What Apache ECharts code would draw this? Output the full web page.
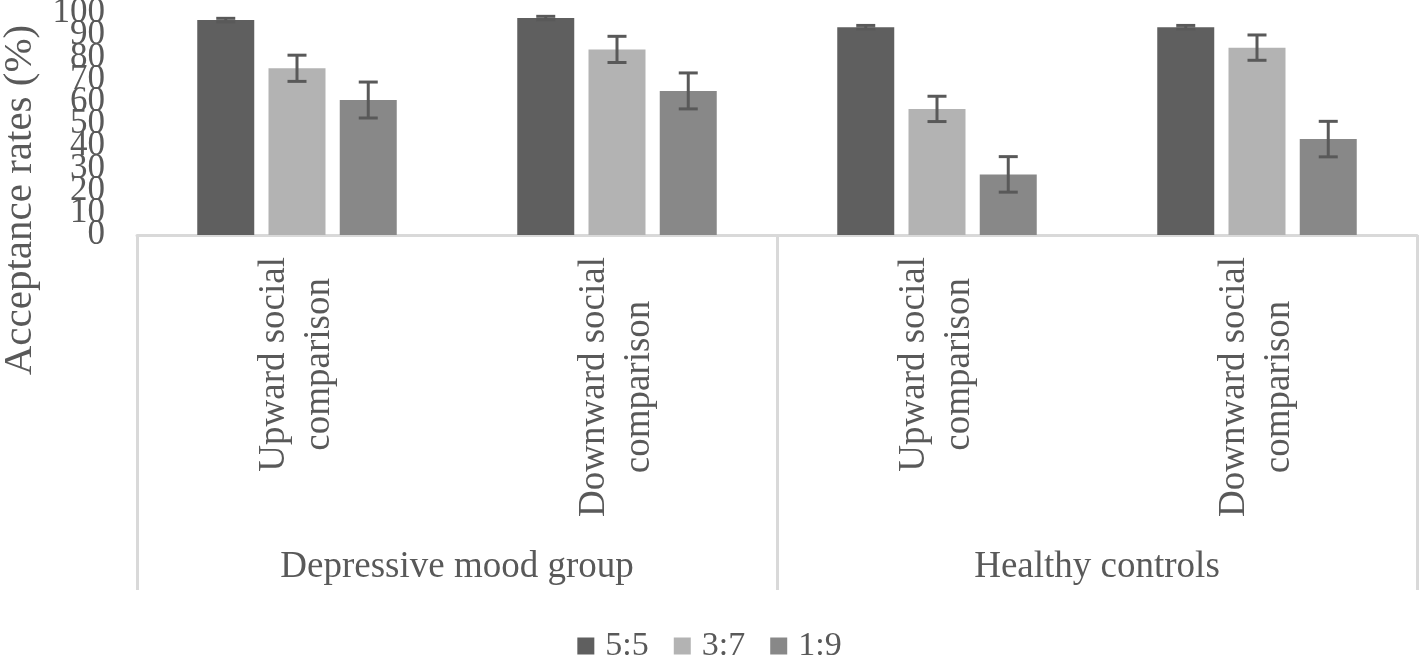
<!DOCTYPE html>
<html>
<head>
<meta charset="utf-8">
<script src="https://cdn.jsdelivr.net/npm/echarts@6/dist/echarts.min.js"></script>
<style>
html,body{margin:0;padding:0;background:#fff;}
#chart{width:1419px;height:656px;}
</style>
</head>
<body>
<div id="chart"></div>
<script>
var categories = ['Upward social\ncomparison', 'Downward social\ncomparison', 'Upward social\ncomparison', 'Downward social\ncomparison'];
var groups = ['Depressive mood group', 'Healthy controls'];
var seriesNames = ['5:5', '3:7', '1:9'];
var values55 = [96.8, 97.7, 93.6, 93.6];
var values37 = [75.1, 83.6, 56.8, 84.4];
var values19 = [60.8, 64.9, 27.3, 43.2];
var errors55 = [0.8, 0.8, 0.8, 0.8];
var errors37 = [5.9, 5.9, 5.7, 5.7];
var errors19 = [8.1, 8.1, 8.0, 8.0];
var yTicks = [0, 10, 20, 30, 40, 50, 60, 70, 80, 90, 100];

var colors = ['#5f5f5f', '#b3b3b3', '#888888'];
var FONT = "'Liberation Serif', 'Times New Roman', serif";
var TXT = '#595959';
var BAR_W = 57, BAR_GAP = 0.25;

var allValues = [values55, values37, values19];
var allErrors = [errors55, errors37, errors19];
var yMin = yTicks[0], yMax = yTicks[yTicks.length - 1];

function errorSeries(k) {
  var data = allValues[k].map(function (v, i) { return [i, v - allErrors[k][i], v + allErrors[k][i]]; });
  var offset = (k - 1) * BAR_W * (1 + BAR_GAP);
  return {
    type: 'custom',
    xAxisIndex: 0,
    yAxisIndex: 0,
    z: 10,
    silent: true,
    data: data,
    renderItem: function (params, api) {
      var lo = api.coord([api.value(0), api.value(1)]);
      var hi = api.coord([api.value(0), api.value(2)]);
      var x = lo[0] + offset;
      var cw = 19;
      var st = { stroke: '#595959', lineWidth: 3 };
      return {
        type: 'group',
        children: [
          { type: 'line', shape: { x1: x, y1: hi[1], x2: x, y2: lo[1] }, style: st },
          { type: 'line', shape: { x1: x - cw / 2, y1: hi[1], x2: x + cw / 2, y2: hi[1] }, style: st },
          { type: 'line', shape: { x1: x - cw / 2, y1: lo[1], x2: x + cw / 2, y2: lo[1] }, style: st }
        ]
      };
    }
  };
}

var series = seriesNames.map(function (n, k) {
  return {
    name: n,
    type: 'bar',
    xAxisIndex: 0,
    yAxisIndex: 0,
    barWidth: BAR_W,
    barGap: (BAR_GAP * 100) + '%',
    itemStyle: { color: colors[k] },
    data: allValues[k]
  };
});
series = series.concat([errorSeries(0), errorSeries(1), errorSeries(2)]);

function yAxisDef(showEnds) {
  return {
    type: 'value',
    position: 'left',
    min: yMin,
    max: yMax,
    interval: 10,
    axisLine: { show: false },
    axisTick: { show: false },
    splitLine: { show: false },
    axisLabel: {
      margin: 32,
      showMinLabel: showEnds,
      showMaxLabel: showEnds,
      hideOverlap: false,
      fontFamily: FONT,
      fontSize: 35,
      color: TXT,
      formatter: function (v) {
        var isEnd = (v === yMin || v === yMax);
        if (showEnds) return isEnd ? String(v) : '';
        return (!isEnd && yTicks.indexOf(v) >= 0) ? String(v) : '';
      }
    }
  };
}

var chart = echarts.init(document.getElementById('chart'), null, { renderer: 'canvas' });
chart.setOption({
  animation: false,
  backgroundColor: '#fff',
  grid: { left: 137, right: 2, top: 13, bottom: 421, containLabel: false, outerBoundsMode: 'none' },
  legend: {
    data: seriesNames,
    left: 'center',
    top: 624,
    icon: 'rect',
    itemWidth: 17,
    itemHeight: 17,
    itemGap: 25,
    textStyle: { fontFamily: FONT, fontSize: 34, color: TXT, padding: [0, 0, 0, 6] }
  },
  xAxis: [
    {
      type: 'category',
      position: 'bottom',
      data: categories,
      axisLine: { show: true, lineStyle: { color: '#d9d9d9', width: 3 } },
      axisTick: { show: false },
      axisLabel: {
        rotate: 90,
        margin: 22,
        interval: 0,
        fontFamily: FONT,
        fontSize: 37,
        lineHeight: 45,
        color: TXT,
        formatter: function (v) {
          return v.split('\n').map(function (s) { return '{c|' + s + '}'; }).join('\n');
        },
        rich: { c: { align: 'center', fontFamily: FONT, fontSize: 37, lineHeight: 45, color: TXT } }
      }
    },
    {
      type: 'category',
      position: 'bottom',
      data: groups,
      axisLine: { show: false },
      axisTick: { show: true, length: 355, lineStyle: { color: '#d9d9d9', width: 3 } },
      axisLabel: { margin: 314, interval: 0, fontFamily: FONT, fontSize: 37, color: TXT }
    }
  ],
  yAxis: [yAxisDef(false), yAxisDef(true)],
  graphic: [{
    type: 'text',
    x: 20,
    y: 200,
    rotation: Math.PI / 2,
    style: {
      text: 'Acceptance rates (%)',
      font: '41px ' + FONT,
      fill: TXT,
      align: 'center',
      verticalAlign: 'middle'
    }
  }],
  series: series
});
</script>
</body>
</html>
